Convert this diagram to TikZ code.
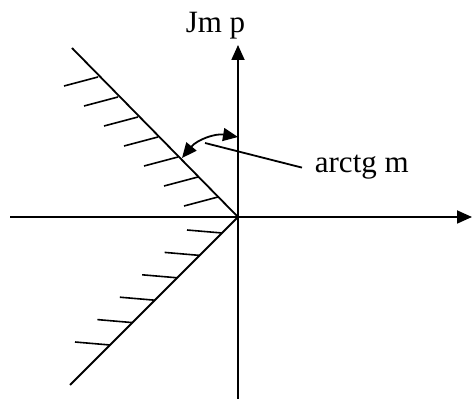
\documentclass[tikz,border=0pt]{standalone}
\usepackage{fontspec}
\setmainfont{Liberation Serif}
\usepackage{tikz}
\usetikzlibrary{arrows.meta,positioning,calc}

\begin{document}
\begin{tikzpicture}[x=1pt,y=1pt,line width=1.8pt,
  font=\fontsize{31}{36}\selectfont,
  ax/.style={-{Triangle[length=15pt,width=13pt]}},
  hatch/.style={line width=1.6pt},
  lbl/.style={inner sep=0pt}]
\useasboundingbox (0,0) rectangle (472,399);
% axes
\coordinate (O) at (238,182);
\coordinate (xl) at (10,182);
\coordinate (xr) at (472,182);
\coordinate (yb) at (238,0);
\coordinate (yt) at (238,354);
\draw[ax] (xl) -- (xr);
\draw[ax] (yb) -- (yt);
% boundary lines
\coordinate (up) at (72,351);
\coordinate (lo) at (70,14);
\draw (O) -- (up);
\draw (O) -- (lo);
\foreach \d in {20,40,...,140}
  \draw[hatch] ($(O)+(-\d,\d)$) -- ++(-34,-9);
\foreach \d in {16,38.4,60.8,83.2,105.6,128}
  \draw[hatch] ($(O)+(-\d,-\d)$) -- ++(-35,3);
% angle
\coordinate (a1) at (238,262);
\coordinate (a2) at (182,241);
\draw[{Triangle[length=15pt,width=13pt]}-{Triangle[length=15pt,width=13pt]}]
  (a1) to[bend right=30] (a2);
\node[lbl,inner xsep=12pt,anchor=base west] (arcm) at (302,226) {arctg m};
\coordinate (lead) at (205,256);
\draw (lead) -- (arcm.west);
\node[lbl,anchor=base] (jm) at (215.5,366) {Jm p};
\end{tikzpicture}
\end{document}
